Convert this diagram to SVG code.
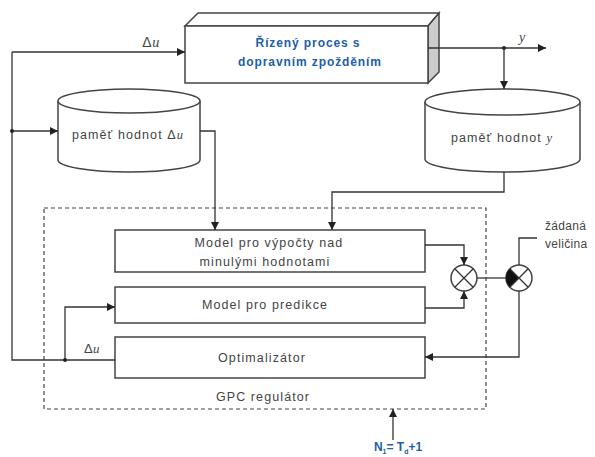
<svg xmlns="http://www.w3.org/2000/svg" width="595" height="457" viewBox="0 0 595 457">
<defs>
<marker id="ah" viewBox="0 0 10 10" refX="10" refY="5" markerWidth="8" markerHeight="8" markerUnits="userSpaceOnUse" orient="auto">
<path d="M0,0 L10,5 L0,10 z" fill="#222"/>
</marker>
<style>
.ln{fill:none;stroke:#333;stroke-width:1.3}
.arr{fill:none;stroke:#333;stroke-width:1.3;marker-end:url(#ah)}
.box{fill:#fff;stroke:#444;stroke-width:1.5}
.t{font-family:"Liberation Sans",Arial,sans-serif;font-size:12.5px;fill:#444;letter-spacing:1.1px;text-anchor:middle}
.b{font-family:"Liberation Sans",Arial,sans-serif;font-size:12px;font-weight:bold;fill:#2060a8;text-anchor:middle;letter-spacing:0.9px}
.m{font-family:"Liberation Serif","Times New Roman",serif;font-style:italic}
.dot{fill:#222}
</style>
</defs>
<rect width="595" height="457" fill="#fff"/>

<g id="gpc">
<rect x="44" y="208" width="442" height="201" fill="none" stroke="#444" stroke-width="1.2" stroke-dasharray="4,3"/>
<text class="t" x="263" y="401">GPC regulátor</text>
</g>

<g id="process">
<path d="M185,26 L198,13 L439,13 L428,26 z" fill="#fff" stroke="#444" stroke-width="1.5"/>
<path d="M428,26 L439,13 L439,72 L428,83 z" fill="#ccc" stroke="#444" stroke-width="1.5"/>
<rect x="185" y="26" width="243" height="57" class="box"/>
<text class="b" x="308" y="47">Řízený proces s</text>
<text class="b" x="310" y="66">dopravním zpožděním</text>
</g>

<g id="mem-du">
<path d="M58,101 L58,160 A71,12 0 0 0 200,160 L200,101" class="box"/>
<ellipse cx="129" cy="101" rx="71" ry="12" class="box"/>
<text class="t" x="128" y="139">paměť hodnot Δ<tspan class="m">u</tspan></text>
</g>

<g id="mem-y">
<path d="M425,102 L425,159 A77.5,13 0 0 0 580,159 L580,102" class="box"/>
<ellipse cx="502.5" cy="102" rx="77.5" ry="13" class="box"/>
<text class="t" x="502" y="142">paměť hodnot <tspan class="m">y</tspan></text>
</g>

<g id="model-past">
<rect x="115" y="230" width="310" height="42" class="box"/>
<text class="t" x="269" y="247">Model pro výpočty nad</text>
<text class="t" x="265" y="266">minulými hodnotami</text>
</g>

<g id="model-pred">
<rect x="115" y="287" width="310" height="36" class="box"/>
<text class="t" x="265" y="309">Model pro predikce</text>
</g>

<g id="optim">
<rect x="115" y="337" width="310" height="41" class="box"/>
<text class="t" x="262" y="362">Optimalizátor</text>
</g>

<g id="sum1">
<circle cx="464" cy="278" r="13" fill="#fff" stroke="#444" stroke-width="1.5"/>
<path d="M454.8,268.8 L473.2,287.2 M473.2,268.8 L454.8,287.2" class="ln"/>
</g>

<g id="sum2">
<circle cx="519" cy="278" r="13" fill="#fff" stroke="#444" stroke-width="1.5"/>
<path d="M519,278 L509.8,268.8 A13,13 0 0 0 509.8,287.2 z" fill="#111"/>
<path d="M509.8,268.8 L528.2,287.2 M528.2,268.8 L509.8,287.2" class="ln"/>
</g>

<g id="labels">
<text class="t" x="151" y="47" style="letter-spacing:0.5px;font-size:14px">Δ<tspan class="m">u</tspan></text>
<text class="t" x="522" y="42" style="letter-spacing:0;font-size:14px"><tspan class="m">y</tspan></text>
<text class="t" x="92" y="353" style="letter-spacing:0.5px;font-size:13px">Δ<tspan class="m">u</tspan></text>
<text class="t" x="545" y="230" style="text-anchor:start;letter-spacing:0.3px;font-size:12px">žádaná</text>
<text class="t" x="545" y="248" style="text-anchor:start;letter-spacing:0.3px;font-size:12px">veličina</text>
<text class="b" x="398" y="451" style="font-size:12px;letter-spacing:0">N<tspan dy="3" font-size="7">1</tspan><tspan dy="-3">= T</tspan><tspan dy="3" font-size="7">d</tspan><tspan dy="-3">+1</tspan></text>
</g>

<g id="connectors">
<path class="arr" d="M12,52 L185,52"/>
<path class="ln" d="M12,52 L12,360 L115,360"/>
<path class="arr" d="M12,131 L58,131"/>
<circle class="dot" cx="12" cy="131" r="2"/>
<path class="arr" d="M65,360 L65,307 L115,307"/>
<circle class="dot" cx="65" cy="360" r="2"/>
<path class="arr" d="M200,131 L215,131 L215,230"/>
<path class="arr" d="M428,48 L546,48"/>
<circle class="dot" cx="504" cy="48" r="2"/>
<path class="arr" d="M504,48 L504,89"/>
<path class="arr" d="M504,172 L504,192 L332,192 L332,230"/>
<path class="arr" d="M425,245 L464,245 L464,265"/>
<path class="arr" d="M425,308 L464,308 L464,291"/>
<path class="ln" d="M477,278 L506,278"/>
<path class="ln" d="M519,265 L519,238 L537,238"/>
<path class="arr" d="M519,291 L519,357 L425,357"/>
<path class="arr" d="M393,440 L393,409"/>
</g>
</svg>
